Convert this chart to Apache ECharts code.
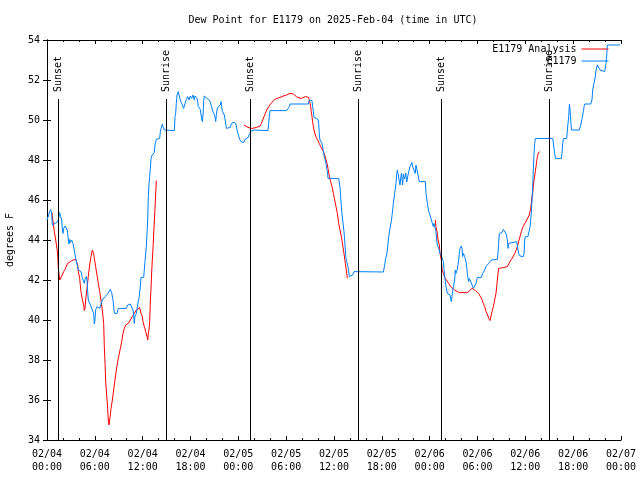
<!DOCTYPE html>
<html><head><meta charset="utf-8">
<script src="https://cdn.jsdelivr.net/npm/echarts@6/dist/echarts.min.js"></script>
<style>html,body{margin:0;padding:0;background:#fff}#c{width:640px;height:480px}</style>
</head><body><div id="c"></div>
<script>
// hours since 02/04 00:00 UTC
const xTickLabels = ['02/04\n00:00','02/04\n06:00','02/04\n12:00','02/04\n18:00','02/05\n00:00','02/05\n06:00','02/05\n12:00','02/05\n18:00','02/06\n00:00','02/06\n06:00','02/06\n12:00','02/06\n18:00','02/07\n00:00'];
const sunTimes = [1.42, 14.96, 25.55, 39.05, 49.46, 63.01];
const sunLabels = ['Sunset','Sunrise','Sunset','Sunrise','Sunset','Sunrise'];
const sunLineTop = 51.05;

const analysisSeg1 = [[0.6,45.4],[0.92,44.42],[1.09,44.0],[1.25,43.58],[1.34,43.25],[1.42,42.58],[1.59,42.0],[1.76,42.08],[1.92,42.25],[2.09,42.42],[2.26,42.53],[2.43,42.7],[2.59,42.83],[2.93,42.92],[3.26,43.0],[3.6,43.03],[3.76,42.97],[3.85,42.75],[3.93,42.42],[4.1,42.08],[4.18,41.75],[4.26,41.42],[4.43,41.03],[4.6,40.75],[4.68,40.47],[4.77,40.58],[4.85,41.0],[5.02,41.58],[5.18,42.17],[5.35,42.75],[5.52,43.17],[5.69,43.5],[5.77,43.53],[5.85,43.33],[5.94,43.08],[6.1,42.67],[6.27,42.25],[6.44,41.83],[6.61,41.42],[6.77,41.0],[6.94,40.5],[7.11,39.83],[7.19,38.67],[7.28,37.83],[7.36,36.92],[7.44,36.5],[7.53,36.0],[7.61,35.58],[7.69,35.0],[7.78,34.75],[7.86,35.0],[7.94,35.25],[8.03,35.58],[8.2,36.0],[8.36,36.5],[8.53,37.0],[8.7,37.5],[8.86,37.92],[9.03,38.25],[9.2,38.58],[9.37,38.92],[9.53,39.33],[9.7,39.58],[9.87,39.75],[10.2,39.83],[10.45,40.0],[10.7,40.17],[10.95,40.33],[11.21,40.5],[11.46,40.53],[11.62,40.62],[11.79,40.33],[11.96,40.17],[12.04,39.92],[12.21,39.67],[12.38,39.42],[12.55,39.17],[12.63,39.0],[12.71,39.33],[12.79,39.5],[12.88,39.92],[12.96,40.9],[13.05,41.6],[13.13,42.4],[13.21,43.0],[13.3,43.6],[13.38,44.3],[13.46,44.9],[13.55,45.6],[13.63,46.3],[13.71,46.97]];
const analysisSeg2 = [[24.71,49.75],[24.96,49.7],[25.21,49.63],[25.46,49.58],[25.71,49.58],[25.96,49.63],[26.3,49.63],[26.72,49.7],[26.89,49.83],[27.06,50.0],[27.22,50.17],[27.39,50.33],[27.56,50.5],[27.81,50.67],[28.05,50.8],[28.3,50.87],[28.56,51.03],[28.81,51.08],[29.23,51.13],[29.64,51.2],[30.06,51.25],[30.48,51.33],[30.73,51.37],[30.9,51.3],[31.15,51.2],[31.4,51.13],[31.65,51.03],[31.9,51.08],[32.15,51.13],[32.4,51.17],[32.65,51.17],[32.82,51.13],[32.9,51.0],[32.99,50.83],[33.07,50.67],[33.15,50.42],[33.24,50.17],[33.32,49.92],[33.41,49.67],[33.49,49.5],[33.57,49.42],[33.66,49.25],[33.82,49.08],[33.99,48.97],[34.16,48.83],[34.33,48.67],[34.5,48.58],[34.66,48.42],[34.83,48.25],[35.0,48.0],[35.17,47.75],[35.25,47.58],[35.42,47.17],[35.58,46.92],[35.75,46.67],[35.92,46.33],[36.09,46.0],[36.25,45.67],[36.42,45.33],[36.59,44.83],[36.75,44.5],[36.92,44.17],[37.09,43.75],[37.25,43.33],[37.42,42.83],[37.59,42.33],[37.67,42.08]];
const analysisSeg3 = [[48.71,45.0],[48.79,44.67],[48.96,44.33],[49.05,44.0],[49.21,43.75],[49.3,43.33],[49.47,43.0],[49.55,42.5],[49.72,42.33],[49.89,42.13],[50.13,42.03],[50.39,41.83],[50.64,41.67],[50.89,41.58],[51.14,41.5],[51.39,41.42],[51.72,41.37],[52.64,41.37],[52.9,41.42],[53.06,41.5],[53.32,41.58],[53.57,41.53],[53.73,41.47],[53.9,41.47],[54.15,41.33],[54.32,41.2],[54.57,41.03],[54.73,40.83],[54.9,40.67],[55.07,40.42],[55.23,40.3],[55.4,40.08],[55.57,39.97],[55.65,39.87],[55.74,40.03],[55.82,40.42],[55.99,40.67],[56.15,41.0],[56.32,41.33],[56.41,41.67],[56.49,42.0],[56.57,42.33],[56.66,42.58],[56.82,42.62],[57.24,42.62],[57.74,42.67],[57.91,42.75],[58.08,42.92],[58.25,43.03],[58.5,43.2],[58.67,43.33],[58.83,43.47],[59.0,43.67],[59.16,43.92],[59.33,44.17],[59.5,44.42],[59.67,44.63],[59.83,44.75],[60.0,44.87],[60.17,45.0],[60.33,45.08],[60.5,45.25],[60.59,45.42],[60.67,45.58],[60.75,45.83],[60.84,46.17],[60.92,46.33],[61.0,46.67],[61.09,47.0],[61.17,47.17],[61.25,47.42],[61.34,47.67],[61.42,47.92],[61.51,48.17],[61.59,48.3],[61.76,48.42]];

const stationObs = [[0.0,45.0],[0.17,45.2],[0.33,45.42],[0.46,45.53],[0.59,45.3],[0.67,44.75],[0.84,44.67],[1.0,44.83],[1.13,44.92],[1.34,44.92],[1.51,45.17],[1.59,45.37],[1.71,45.17],[1.84,45.0],[1.92,44.58],[2.01,44.33],[2.09,44.58],[2.26,44.7],[2.43,44.7],[2.55,44.5],[2.68,44.0],[2.76,43.8],[2.84,44.03],[2.93,43.87],[3.09,44.0],[3.26,43.83],[3.43,43.47],[3.6,43.08],[3.76,43.03],[3.93,42.5],[4.1,42.42],[4.26,42.42],[4.43,42.13],[4.52,42.2],[4.68,41.83],[4.77,42.03],[4.93,42.17],[5.02,42.0],[5.1,41.42],[5.18,41.0],[5.35,41.0],[5.52,40.67],[5.69,40.75],[5.85,40.33],[5.94,39.8],[6.02,40.0],[6.1,40.5],[6.27,40.67],[6.44,40.7],[6.61,40.58],[6.77,40.67],[6.94,41.0],[7.11,40.97],[7.28,41.17],[7.44,41.17],[7.61,41.3],[7.78,41.33],[7.94,41.53],[8.11,41.37],[8.28,41.0],[8.45,40.33],[8.61,40.25],[8.78,40.33],[8.95,40.58],[9.53,40.58],[9.78,40.53],[9.95,40.58],[10.12,40.75],[10.29,40.83],[10.45,40.8],[10.62,40.75],[10.79,40.5],[10.87,40.25],[10.95,39.83],[11.04,40.2],[11.21,40.33],[11.37,40.75],[11.54,41.08],[11.71,41.7],[11.79,42.13],[12.13,42.13],[12.29,42.92],[12.46,43.67],[12.63,45.0],[12.71,46.17],[12.8,46.83],[12.88,47.17],[12.96,47.58],[13.05,48.08],[13.13,48.2],[13.21,48.3],[13.3,48.25],[13.38,48.13],[13.46,48.37],[13.55,48.75],[13.63,48.8],[13.72,49.03],[13.88,49.08],[14.13,49.08],[14.22,49.42],[14.3,49.58],[14.38,49.67],[14.47,49.8],[14.55,49.67],[14.72,49.5],[14.89,49.47],[15.97,49.47],[16.06,50.17],[16.14,50.33],[16.22,50.83],[16.31,51.25],[16.47,51.42],[16.56,51.25],[16.72,51.0],[16.89,50.83],[17.14,50.58],[17.31,50.83],[17.48,51.03],[17.64,51.17],[17.81,51.0],[17.98,51.2],[18.15,51.08],[18.31,51.25],[18.48,51.0],[18.56,51.2],[18.73,51.25],[18.82,51.08],[18.9,50.92],[18.98,50.67],[19.23,50.53],[19.32,50.25],[19.4,50.17],[19.48,49.92],[19.57,50.25],[19.65,50.92],[19.73,51.2],[19.9,51.13],[20.07,51.08],[20.24,51.0],[20.4,50.97],[20.57,50.92],[20.65,50.67],[20.74,50.5],[20.82,50.53],[20.91,50.33],[20.99,50.42],[21.07,50.17],[21.16,49.92],[21.24,50.25],[21.32,50.5],[21.41,50.63],[21.58,50.58],[21.74,50.75],[21.83,50.92],[21.91,50.67],[22.0,50.42],[22.08,50.5],[22.16,50.33],[22.25,50.25],[22.33,50.17],[22.5,49.58],[23.0,49.63],[23.08,49.75],[23.25,49.87],[23.58,49.87],[23.75,49.75],[23.83,49.5],[24.0,49.25],[24.17,49.03],[24.33,48.92],[24.5,48.83],[24.67,48.87],[24.83,49.03],[25.0,49.13],[25.25,49.13],[25.42,49.33],[25.67,49.47],[25.96,49.5],[27.72,49.47],[27.81,49.83],[27.89,50.2],[27.97,50.47],[28.14,50.5],[30.06,50.47],[30.31,50.5],[30.4,50.67],[30.48,50.8],[32.78,50.8],[32.9,51.0],[33.15,51.03],[33.24,50.97],[33.32,50.67],[33.41,50.42],[33.49,50.13],[33.57,50.08],[33.99,50.03],[34.08,49.83],[34.16,49.25],[34.24,49.0],[34.33,48.97],[34.41,49.03],[34.5,48.83],[34.58,48.75],[34.66,48.47],[34.75,48.25],[34.83,48.08],[34.91,48.0],[35.0,47.83],[35.08,47.58],[35.17,47.42],[35.25,47.08],[35.42,47.03],[36.59,47.07],[36.67,47.0],[36.75,46.67],[36.83,46.17],[36.92,45.67],[37.0,45.33],[37.09,45.0],[37.25,44.42],[37.34,44.0],[37.42,43.5],[37.5,43.08],[37.59,42.92],[37.67,42.83],[37.75,42.67],[37.84,42.42],[37.92,42.17],[38.17,42.13],[38.34,42.25],[38.51,42.42],[42.19,42.4],[42.27,42.5],[42.36,42.75],[42.44,43.0],[42.61,43.25],[42.69,43.5],[42.86,44.17],[43.02,44.58],[43.19,44.92],[43.36,45.5],[43.44,45.83],[43.61,46.33],[43.78,46.83],[43.86,47.25],[43.95,47.5],[44.12,47.58],[44.28,46.75],[44.45,47.33],[44.61,46.75],[44.7,47.3],[44.85,47.05],[45.0,47.35],[45.12,46.9],[45.37,47.42],[45.53,47.67],[45.78,47.87],[45.87,47.67],[46.03,47.7],[46.2,47.33],[46.28,47.75],[46.45,47.75],[46.62,47.1],[46.7,46.92],[47.46,46.92],[47.54,46.33],[47.71,45.83],[47.88,45.42],[48.04,45.25],[48.21,45.0],[48.38,44.92],[48.46,44.67],[48.55,44.83],[48.71,44.75],[48.79,44.42],[48.88,44.0],[48.96,43.75],[49.13,43.58],[49.3,43.33],[49.47,43.2],[49.63,43.25],[49.72,42.92],[49.8,42.5],[49.89,42.17],[50.05,41.67],[50.22,41.33],[50.39,41.25],[50.55,41.25],[50.72,40.92],[50.8,41.17],[50.97,41.67],[51.14,42.0],[51.22,42.5],[51.3,42.33],[51.39,42.42],[51.47,42.53],[51.64,43.0],[51.72,43.33],[51.81,43.58],[51.97,43.7],[52.06,43.58],[52.14,43.17],[52.23,43.33],[52.31,43.42],[52.39,43.17],[52.56,42.92],[52.64,42.67],[52.73,42.33],[52.81,42.08],[52.9,41.92],[52.98,42.08],[53.06,42.0],[53.15,42.17],[53.23,42.0],[53.32,41.75],[53.48,41.58],[53.65,41.7],[53.81,41.83],[53.98,42.13],[54.48,42.13],[54.65,42.33],[54.9,42.5],[55.07,42.67],[55.23,42.7],[55.4,42.83],[55.57,42.92],[55.74,43.0],[56.49,43.03],[56.57,43.33],[56.65,43.83],[56.74,44.33],[57.07,44.37],[57.24,44.53],[57.41,44.58],[57.49,44.63],[57.57,44.33],[57.74,44.03],[57.83,43.58],[57.91,43.83],[58.0,43.92],[58.91,43.92],[59.08,43.83],[59.16,43.33],[59.33,43.2],[59.75,43.17],[59.84,43.33],[59.92,44.0],[60.0,44.17],[60.33,44.17],[60.59,44.67],[60.75,45.33],[60.84,46.0],[60.92,46.67],[61.0,47.5],[61.09,48.33],[61.17,48.83],[61.25,49.07],[63.44,49.08],[63.51,49.0],[63.68,48.33],[63.77,48.08],[64.52,48.08],[64.6,48.33],[64.69,48.83],[64.77,49.07],[65.19,49.08],[65.27,49.5],[65.44,50.17],[65.53,50.8],[65.61,50.5],[65.78,49.5],[66.78,49.5],[66.95,49.75],[67.12,50.08],[67.28,50.42],[67.37,50.67],[67.45,50.8],[68.2,50.8],[68.36,51.0],[68.45,51.5],[68.61,51.83],[68.78,52.17],[68.87,52.5],[69.03,52.75],[69.2,52.75],[69.37,52.5],[69.95,52.42],[70.12,52.83],[70.2,53.17],[70.29,53.75],[71.87,53.75]];

const analysisData = analysisSeg1.concat([[14, '-']], analysisSeg2, [[38, '-']], analysisSeg3);

const FONT = 'DejaVu Sans Mono';
const chart = echarts.init(document.getElementById('c'), null, {renderer: 'canvas'});

const sunLines = sunTimes.map(t => [{coord: [t, 34]}, {coord: [t, sunLineTop]}]);
const sunLabelPts = sunTimes.map((t, i) => ({value: [t, sunLineTop], name: sunLabels[i]}));

const axisCommon = {
  axisLine: {show: true, lineStyle: {color: '#000', width: 1}},
  splitLine: {show: false}
};
const legendCommon = {
  align: 'right', itemWidth: 27, itemHeight: 12, padding: 0,
  itemStyle: {opacity: 0},
  lineStyle: {width: 1},
  textStyle: {fontFamily: FONT, fontSize: 10, color: '#000'}
};

chart.setOption({
  animation: false,
  backgroundColor: '#fff',
  title: {
    text: 'Dew Point for E1179 on 2025-Feb-04 (time in UTC)',
    left: 328, top: 10, textAlign: 'center',
    textStyle: {fontFamily: FONT, fontSize: 10, fontWeight: 'normal', color: '#000'}
  },
  legend: [
    Object.assign({data: ['E1179 Analysis'], right: 31, top: 44}, legendCommon),
    Object.assign({data: ['E1179'], right: 31, top: 56}, legendCommon)
  ],
  grid: {left: 47, right: 19, top: 40, bottom: 40, show: false, containLabel: false, outerBoundsMode: 'none'},
  xAxis: [
    Object.assign({
      type: 'value', min: 0, max: 72, interval: 6, position: 'bottom',
      axisTick: {show: true, inside: true, length: 4, lineStyle: {color: '#000'}},
      minorTick: {show: true, splitNumber: 3, length: 2, lineStyle: {color: '#000'}},
      axisLabel: {
        margin: 8, lineHeight: 13, fontFamily: FONT, fontSize: 10, color: '#000',
        formatter: v => xTickLabels[Math.round(v / 6)]
      }
    }, axisCommon),
    Object.assign({
      type: 'value', min: 0, max: 72, interval: 6, position: 'top',
      axisTick: {show: true, inside: true, length: 4, lineStyle: {color: '#000'}},
      minorTick: {show: true, splitNumber: 3, length: 2, lineStyle: {color: '#000'}},
      axisLabel: {show: false}
    }, axisCommon)
  ],
  yAxis: [
    Object.assign({
      type: 'value', min: 34, max: 54, interval: 2, position: 'left',
      name: 'degrees F', nameLocation: 'middle', nameGap: 32,
      nameTextStyle: {fontFamily: FONT, fontSize: 10, color: '#000'},
      axisTick: {show: true, inside: true, length: 4, lineStyle: {color: '#000'}},
      axisLabel: {margin: 7, fontFamily: FONT, fontSize: 10, color: '#000'}
    }, axisCommon),
    Object.assign({
      type: 'value', min: 34, max: 54, interval: 2, position: 'right',
      axisTick: {show: true, inside: true, length: 4, lineStyle: {color: '#000'}},
      axisLabel: {show: false}
    }, axisCommon)
  ],
  series: [
    {
      type: 'scatter', name: 'sun', symbolSize: 0, silent: true,
      itemStyle: {opacity: 1},
      data: sunLabelPts,
      label: {
        show: true, formatter: p => p.name, position: 'top', distance: 7,
        rotate: 90, align: 'left', verticalAlign: 'middle', opacity: 1,
        fontFamily: FONT, fontSize: 10, color: '#000'
      },
      markLine: {
        silent: true, symbol: 'none', animation: false,
        label: {show: false},
        lineStyle: {color: '#000', width: 1, type: 'solid', opacity: 1},
        data: sunLines
      }
    },
    {
      type: 'line', name: 'E1179 Analysis', data: analysisData,
      symbol: 'none', showSymbol: false, connectNulls: false,
      lineStyle: {color: '#ff0000', width: 1}, itemStyle: {color: '#ff0000'}
    },
    {
      type: 'line', name: 'E1179', data: stationObs,
      symbol: 'none', showSymbol: false,
      lineStyle: {color: '#0080ff', width: 1}, itemStyle: {color: '#0080ff'}
    }
  ]
});
</script></body></html>
